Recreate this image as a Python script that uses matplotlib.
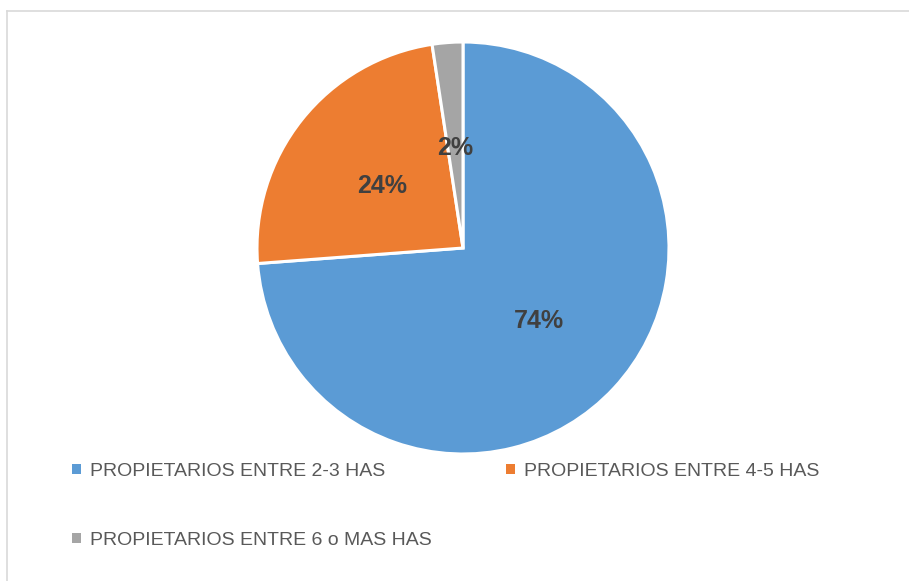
import matplotlib
matplotlib.use("Agg")
import matplotlib.pyplot as plt
import numpy as np
from matplotlib.lines import Line2D
from matplotlib.patches import Patch

# ---------------------------------------------------------------------------
# Data
# ---------------------------------------------------------------------------
CATEGORIES = [
    "PROPIETARIOS ENTRE 2-3 HAS",
    "PROPIETARIOS ENTRE 4-5 HAS",
    "PROPIETARIOS ENTRE 6 o MAS HAS",
]
SHARES = [73.8, 23.8, 2.4]          # percent
PCT_LABELS = ["74%", "24%", "2%"]
COLORS = ["#5B9BD5", "#ED7D31", "#A5A5A5"]

W, H, DPI = 909, 581, 100
CX, CY, R = 463, 248, 206           # pie centre / radius in px (from top-left)

fig = plt.figure(figsize=(W / DPI, H / DPI), dpi=DPI, facecolor="white")
ax = fig.add_axes([(CX - R) / W, (H - CY - R) / H, 2 * R / W, 2 * R / H])

wedges, _ = ax.pie(SHARES, colors=COLORS, startangle=90, counterclock=False,
                   radius=1.0,
                   wedgeprops={"edgecolor": "white", "linewidth": 2.2})
ax.set_xlim(-1, 1)
ax.set_ylim(-1, 1)
ax.set_aspect("equal")
ax.axis("off")

# percentage labels at half radius, mid-angle of each wedge
for w, lab in zip(wedges, PCT_LABELS):
    mid = np.deg2rad(0.5 * (w.theta1 + w.theta2))
    ax.text(0.5 * np.cos(mid), 0.5 * np.sin(mid) - 0.012, lab,
            ha="center", va="center", fontsize=18, fontweight="bold",
            color="#404040", family="Liberation Sans")

# legend: matplotlib fills columns first, so reorder to get row-major layout
handles = [Patch(facecolor=c, edgecolor="none") for c in COLORS]
order = [0, 2, 1]
fig.legend([handles[i] for i in order], [CATEGORIES[i] for i in order],
           loc="upper left", bbox_to_anchor=(72 / W, 1 - 463 / H), ncol=2,
           frameon=False, prop={"family": "Liberation Sans", "size": 14},
           labelcolor="#595959", handlelength=0.45, handleheight=0.45,
           handletextpad=0.45, columnspacing=3.85, labelspacing=2.66,
           borderpad=0, borderaxespad=0)

# chart-area border (only left and top edges visible in the crop)
fig.add_artist(Line2D([6.5 / W, 6.5 / W], [0, 1 - 11 / H],
                      transform=fig.transFigure, color="#d9d9d9", lw=1.2))
fig.add_artist(Line2D([6.5 / W, 1], [1 - 11 / H, 1 - 11 / H],
                      transform=fig.transFigure, color="#d9d9d9", lw=1.2))

fig.savefig("out.png", dpi=DPI, facecolor="white")
